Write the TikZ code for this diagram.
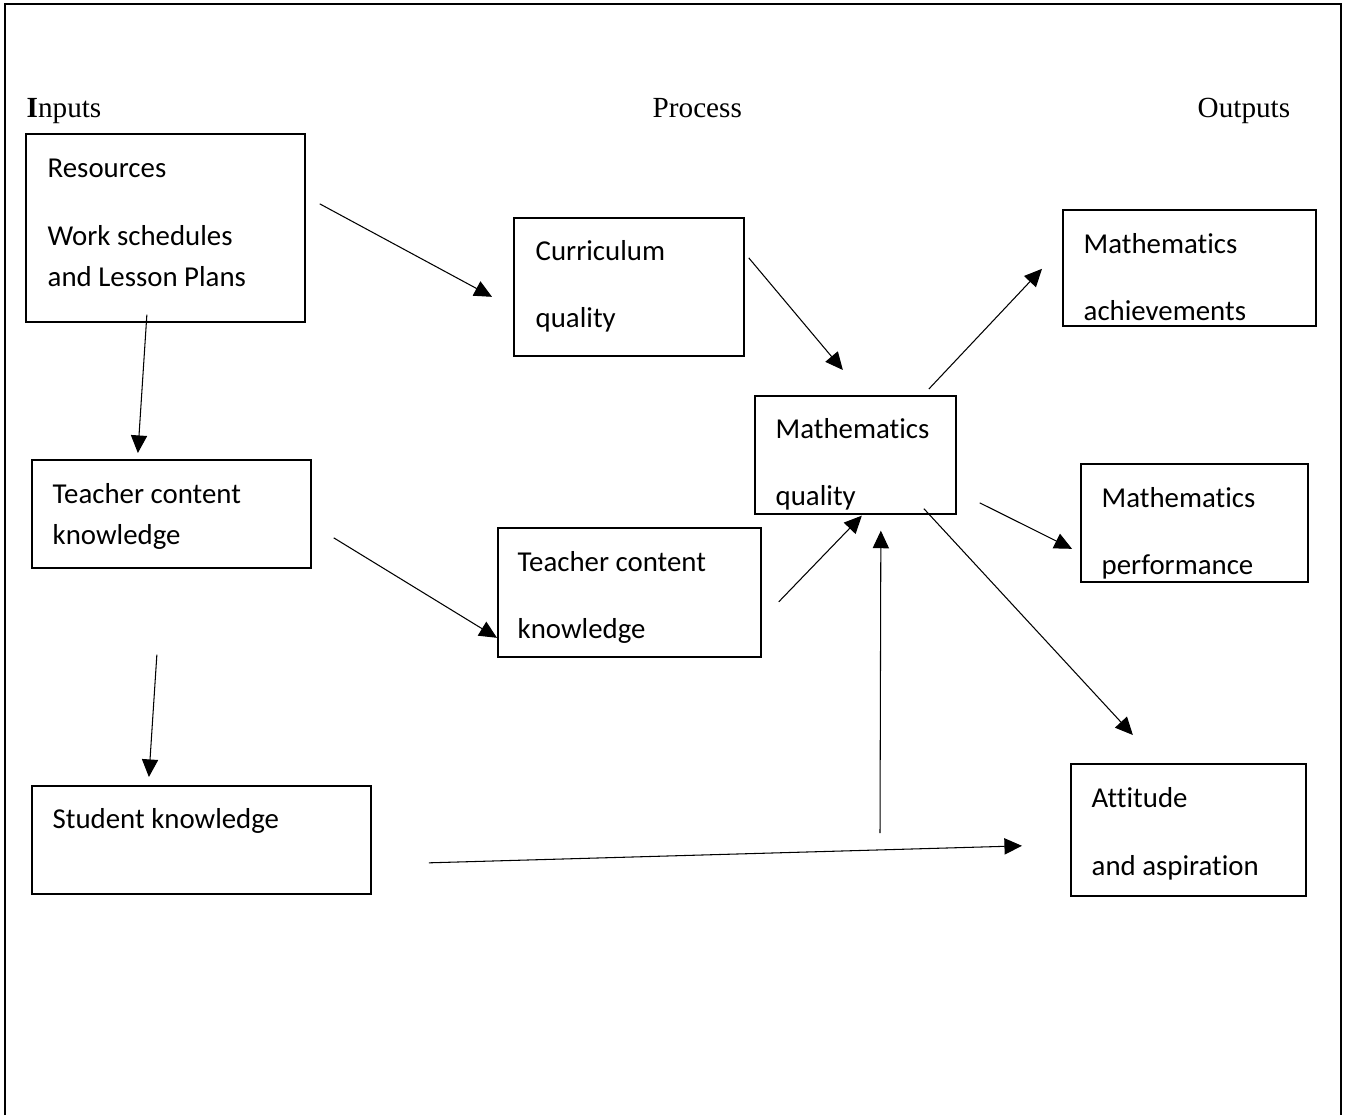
\documentclass[tikz,border=0pt]{standalone}
\usepackage{fontspec}
\setmainfont{Liberation Serif}
\newfontfamily\boxfont[Ligatures={NoCommon,NoRequired,NoContextual}]{Carlito}
\usetikzlibrary{arrows.meta}

\tikzset{
    box/.style={draw, line width=0.45pt, inner sep=0pt, anchor=north west},
    txt/.style={anchor=base west, inner sep=0pt, font=\boxfont\fontsize{8.2}{10}\selectfont},
    head/.style={anchor=base west, inner sep=0pt, font=\fontsize{8.3}{10}\selectfont},
    arr/.style={line width=0.3pt, -{Triangle[length=5pt, width=4.6pt]}},
    frame/.style={line width=0.6pt}
}

\begin{document}
\begin{tikzpicture}[x=0.01cm,y=-0.01cm]
    \useasboundingbox (0,0) rectangle (1346,1115);
    % Outer frame (open at the bottom)
    \draw[frame] (5,1115) -- (5,4) -- (1341,4) -- (1341,1115);

    % Column headings
    \node[head] (hin) at (26,117) {\textbf{I}nputs};
    \node[head] (hpr) at (652,117) {Process};
    \node[head] (hout) at (1197,117) {Outputs};

    % Inputs
    \node[box, minimum width=2.79cm, minimum height=1.88cm] (res) at (25,133) {};
    \node[txt] at (47,177) {Resources};
    \node[txt] at (47,245) {Work schedules};
    \node[txt] at (47,286) {and Lesson Plans};

    \node[box, minimum width=2.79cm, minimum height=1.08cm] (tckin) at (31,459) {};
    \node[txt] at (52,503) {Teacher content};
    \node[txt] at (52,544) {knowledge};

    \node[box, minimum width=3.39cm, minimum height=1.08cm] (stud) at (31,785) {};
    \node[txt] at (52,828) {Student knowledge};

    % Process
    \node[box, minimum width=2.30cm, minimum height=1.38cm] (curr) at (513,217) {};
    \node[txt] at (535,260) {Curriculum};
    \node[txt] at (535,327) {quality};

    \node[box, minimum width=2.63cm, minimum height=1.29cm] (tckpr) at (497,527) {};
    \node[txt] at (517,571) {Teacher content};
    \node[txt] at (517,638) {knowledge};

    \node[box, minimum width=2.01cm, minimum height=1.18cm] (mathq) at (754,395) {};
    \node[txt] at (775,438) {Mathematics};
    \node[txt] at (775,505) {quality};

    % Outputs
    \node[box, minimum width=2.53cm, minimum height=1.16cm] (achv) at (1062,209) {};
    \node[txt] at (1083,253) {Mathematics};
    \node[txt] at (1083,320) {achievements};

    \node[box, minimum width=2.27cm, minimum height=1.18cm] (perf) at (1080,463) {};
    \node[txt] at (1101,507) {Mathematics};
    \node[txt] at (1101,574) {performance};

    \node[box, minimum width=2.35cm, minimum height=1.32cm] (att) at (1070,763) {};
    \node[txt] at (1091,807) {Attitude};
    \node[txt] at (1091,875) {and aspiration};

    % Arrows
    \draw[arr] ([shift={(14,-24)}]res.east) -- ([shift={(-21,10)}]curr.west);
    \draw[arr] ([shift={(-18.5,-8)}]res.south) -- ([shift={(-33.5,-6)}]tckin.north);
    \draw[arr] ([shift={(4,-29)}]curr.east) -- ([shift={(-12.5,-25)}]mathq.north);
    \draw[arr] ([shift={(73.5,-6)}]mathq.north) -- ([shift={(-20,1)}]achv.west);
    \draw[arr] ([shift={(23,48)}]mathq.east) -- ([shift={(-8,26)}]perf.west);
    \draw[arr] ([shift={(68.5,-6)}]mathq.south) -- ([shift={(-55.5,-28)}]att.north);
    \draw[arr] ([shift={(22,24)}]tckin.east) -- ([shift={(0,45.5)}]tckpr.west);
    \draw[arr] ([shift={(17,9.5)}]tckpr.east) -- ([shift={(6.5,1)}]mathq.south);
    \draw[arr] ([shift={(-14.5,86)}]tckin.south) -- ([shift={(-52.5,-8)}]stud.north);
    \draw[arr] ([shift={(57,23)}]stud.east) -- ([shift={(-48,16)}]att.west);
    \coordinate (vup) at (880,833);
    \draw[arr] (vup) -- ([shift={(25.5,16)}]mathq.south);
\end{tikzpicture}
\end{document}
